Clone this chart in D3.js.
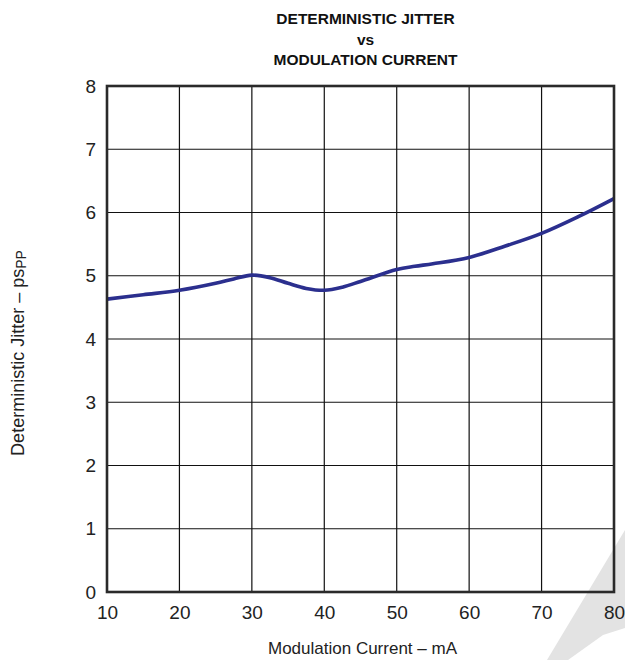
<!DOCTYPE html>
<html>
<head>
<meta charset="utf-8">
<script src="https://cdn.jsdelivr.net/npm/d3@7"></script>
<style>
  html, body { margin: 0; padding: 0; background: #fff; }
  svg { display: block; font-family: "Liberation Sans", Arial, Helvetica, sans-serif; }
</style>
</head>
<body>
<svg id="chart" width="625" height="660"></svg>
<script>
// Modulation current (mA) and deterministic jitter (ps p-p)
const modCurrent = [10, 15, 20, 25, 27.5, 30, 32.5, 35, 37.5, 40, 42.5, 45, 50, 52.5, 55, 60, 65, 70, 75, 80];
const jitterPsPP = [4.63, 4.70, 4.77, 4.88, 4.95, 5.01, 4.97, 4.88, 4.80, 4.77, 4.82, 4.91, 5.10, 5.15, 5.19, 5.29, 5.47, 5.67, 5.93, 6.22];

const xTicks = [10, 20, 30, 40, 50, 60, 70, 80];
const yTicks = [0, 1, 2, 3, 4, 5, 6, 7, 8];
const titleLines = ["DETERMINISTIC JITTER", "vs", "MODULATION CURRENT"];

const svg = d3.select("#chart");
const margin = { left: 107, right: 11, top: 86, bottom: 68 };
const W = 625, H = 660;

const x = d3.scaleLinear().domain([10, 80]).range([margin.left, W - margin.right]);
const y = d3.scaleLinear().domain([0, 8]).range([H - margin.bottom, margin.top]);

// Background watermark shape in the lower-right corner
svg.append("path")
  .attr("d", "M547,660 L625,530 L625,628 L603,635 L568,660 Z")
  .attr("fill", "#e3e3e3");

// Grid
const grid = svg.append("g");
grid.selectAll("line.v").data(xTicks.slice(1, -1)).enter().append("line")
  .attr("x1", d => x(d)).attr("x2", d => x(d))
  .attr("y1", y(0)).attr("y2", y(8))
  .attr("stroke", "#111").attr("stroke-width", 1.2);
grid.selectAll("line.h").data(yTicks.slice(1, -1)).enter().append("line")
  .attr("y1", d => y(d)).attr("y2", d => y(d))
  .attr("x1", x(10)).attr("x2", x(80))
  .attr("stroke", "#111").attr("stroke-width", 1.2);

// Axes (labels only; the frame is drawn separately)
const xAxis = svg.append("g")
  .attr("transform", `translate(0,${y(0)})`)
  .call(d3.axisBottom(x).tickValues(xTicks).tickSize(0).tickPadding(14).tickFormat(d3.format("d")));
xAxis.select(".domain").remove();
xAxis.selectAll("text").attr("font-size", 19).attr("fill", "#222")
  .attr("font-family", "Liberation Sans, Arial, sans-serif");

const yAxis = svg.append("g")
  .attr("transform", `translate(${x(10)},0)`)
  .call(d3.axisLeft(y).tickValues(yTicks).tickSize(0).tickPadding(11).tickFormat(d3.format("d")));
yAxis.select(".domain").remove();
yAxis.selectAll("text").attr("font-size", 19).attr("fill", "#222")
  .attr("font-family", "Liberation Sans, Arial, sans-serif");

// Data curve
const line = d3.line()
  .x((d, i) => x(modCurrent[i]))
  .y(d => y(d))
  .curve(d3.curveCatmullRom.alpha(0.5));
svg.append("path")
  .datum(jitterPsPP)
  .attr("d", line)
  .attr("fill", "none")
  .attr("stroke", "#2b2f8e")
  .attr("stroke-width", 3.6)
  .attr("stroke-linejoin", "round");

// Plot frame
svg.append("rect")
  .attr("x", x(10)).attr("y", y(8))
  .attr("width", x(80) - x(10)).attr("height", y(0) - y(8))
  .attr("fill", "none").attr("stroke", "#2a2a2a").attr("stroke-width", 2.6);

// Title
svg.append("g").selectAll("text").data(titleLines).enter().append("text")
  .attr("x", (x(10) + x(80)) / 2 + 5)
  .attr("y", (d, i) => 24 + i * 20.5)
  .attr("text-anchor", "middle")
  .attr("font-size", 15.5).attr("font-weight", "bold").attr("fill", "#111")
  .text(d => d);

// Axis titles
svg.append("text")
  .attr("x", (x(10) + x(80)) / 2 + 2).attr("y", 654)
  .attr("text-anchor", "middle").attr("font-size", 17).attr("fill", "#222")
  .text("Modulation Current – mA");

const yl = svg.append("text")
  .attr("transform", `translate(24,${(y(0) + y(8)) / 2 + 14}) rotate(-90)`)
  .attr("text-anchor", "middle").attr("font-size", 18).attr("fill", "#222");
yl.append("tspan").text("Deterministic Jitter – ps");
yl.append("tspan").attr("font-size", 14).attr("dy", 2).text("PP");
</script>
</body>
</html>
